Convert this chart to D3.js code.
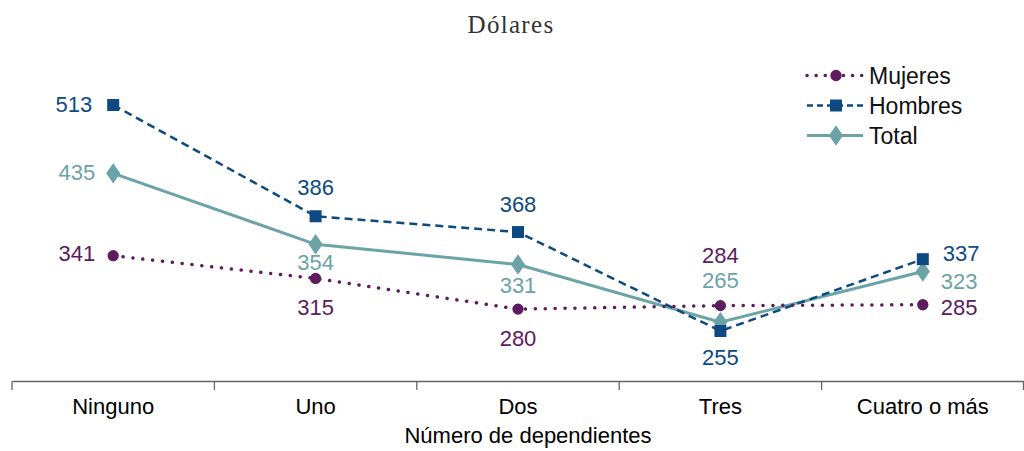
<!DOCTYPE html>
<html>
<head>
<meta charset="utf-8">
<title>Dólares por número de dependientes</title>
<script src="https://cdn.jsdelivr.net/npm/d3@7"></script>
<style>
	body{ margin:0; background:#fff; }
	text{ font-family:"Liberation Sans", Arial, sans-serif; }
</style>
</head>
<body>
<div id="chart"></div>
<script>
// categories and series
var categories = ["Ninguno", "Uno", "Dos", "Tres", "Cuatro o más"];
var mujeres = [341, 315, 280, 284, 285];
var hombres = [513, 386, 368, 255, 337];
var total   = [435, 354, 331, 265, 323];
var seriesNames = ["Mujeres", "Hombres", "Total"];

// label offsets (dx, dy) from each point, so labels don't collide
var mujeresOff = [[-18, 5], [0, 37], [0, 37], [0, -43], [18, 10]];
var hombresOff = [[-21, 7], [0, -21], [0, -20], [0, 34], [20, 2]];
var totalOff   = [[-18, 7], [0, 26], [0, 29], [0, -34], [18, 18]];

var W = 1024, H = 451;
var svg = d3.select("#chart").append("svg")
	.attr("width", W).attr("height", H);

var x = d3.scaleBand().domain(categories).range([12, 1024]);
var y = d3.scaleLinear().domain([200, 600]).range([379.2, 28.8]);
var axisY = 381;

// title
svg.append("text")
	.attr("x", 511).attr("y", 33)
	.attr("text-anchor", "middle")
	.style("font-family", "'Liberation Serif', 'DejaVu Serif', serif")
	.style("font-size", "25px")
	.style("letter-spacing", "1.3px")
	.attr("fill", "#333")
	.text("Dólares");

// x axis
var xAxis = d3.axisBottom(x).tickSize(0).tickPadding(0);
var ax = svg.append("g").attr("transform", "translate(0," + axisY + ")").call(xAxis);
ax.select(".domain").attr("stroke", "#666").attr("stroke-width", 1.3);
ax.selectAll(".tick text")
	.attr("dy", null)
	.attr("y", 33)
	.style("font-size", "22px")
	.attr("fill", "#000");
// boundary ticks between categories
var bounds = categories.map(function(c){ return x(c); }).concat([x.range()[1]]);
ax.selectAll(".btick").data(bounds).enter().append("line")
	.attr("class", "btick")
	.attr("x1", function(d){ return Math.min(d, 1023.5); })
	.attr("x2", function(d){ return Math.min(d, 1023.5); })
	.attr("y1", 0).attr("y2", 9)
	.attr("stroke", "#666").attr("stroke-width", 1.3);

svg.append("text")
	.attr("x", 528).attr("y", 443)
	.attr("text-anchor", "middle")
	.style("font-size", "22px")
	.attr("fill", "#000")
	.text("Número de dependientes");

var cx = function(i){ return x(categories[i]) + x.bandwidth() / 2; };

var series = [
	{ name: seriesNames[0], values: mujeres, off: mujeresOff, color: "#5e1b5e", width: 3.5, dash: "0.1 9.8", cap: "round", marker: "circle" },
	{ name: seriesNames[1], values: hombres, off: hombresOff, color: "#0d4a82", width: 2.5, dash: "8 5", cap: "butt", marker: "square" },
	{ name: seriesNames[2], values: total,   off: totalOff,   color: "#6ca3a7", width: 3, dash: null, cap: "butt", marker: "diamond" }
];

var line = d3.line()
	.x(function(d, i){ return cx(i); })
	.y(function(d){ return y(d); });

function markerPath(type){
	if (type === "circle") return d3.symbol().type(d3.symbolCircle).size(100)();
	if (type === "square") return d3.symbol().type(d3.symbolSquare).size(144)();
	return d3.symbol().type(d3.symbolDiamond).size(120)();
}

// lines first, then markers on top
[2, 1, 0].forEach(function(k){
	var s = series[k];
	svg.append("path")
		.datum(s.values)
		.attr("d", line)
		.attr("fill", "none")
		.attr("stroke", s.color)
		.attr("stroke-width", s.width)
		.attr("stroke-linecap", s.cap)
		.attr("stroke-dasharray", s.dash);
});
[2, 1, 0].forEach(function(k){
	var s = series[k];
	svg.selectAll(".m" + k).data(s.values).enter().append("path")
		.attr("class", "m" + k)
		.attr("d", markerPath(s.marker))
		.attr("transform", function(d, i){
			var sc = s.marker === "diamond" ? "scale(1.2,1)" : "";
			return "translate(" + cx(i) + "," + y(d) + ")" + sc;
		})
		.attr("fill", s.color);
});

// value labels
series.forEach(function(s){
	svg.selectAll(null).data(s.values).enter().append("text")
		.attr("x", function(d, i){ return cx(i) + s.off[i][0]; })
		.attr("y", function(d, i){ return y(d) + s.off[i][1]; })
		.attr("text-anchor", function(d, i){
			var dx = s.off[i][0];
			return dx < 0 ? "end" : dx > 0 ? "start" : "middle";
		})
		.style("font-size", "22px")
		.attr("fill", s.color)
		.text(function(d){ return d; });
});

// legend
var lg = svg.append("g").attr("transform", "translate(807,75.5)");
series.forEach(function(s, i){
	var row = lg.append("g").attr("transform", "translate(0," + (i * 30) + ")");
	row.append("line")
		.attr("x1", 0).attr("x2", 56).attr("y1", 0).attr("y2", 0)
		.attr("stroke", s.color)
		.attr("stroke-width", s.width)
		.attr("stroke-linecap", s.cap)
		.attr("stroke-dasharray", s.dash === "8 5" ? "6 4" : s.dash === "0.1 9.8" ? "0.1 9" : null);
	row.append("path")
		.attr("d", markerPath(s.marker))
		.attr("transform", "translate(29,0)" + (s.marker === "diamond" ? "scale(1.2,1)" : ""))
		.attr("fill", s.color);
	row.append("text")
		.attr("x", 62).attr("y", 8)
		.style("font-size", "23px")
		.attr("fill", "#111")
		.text(s.name);
});
</script>
</body>
</html>
